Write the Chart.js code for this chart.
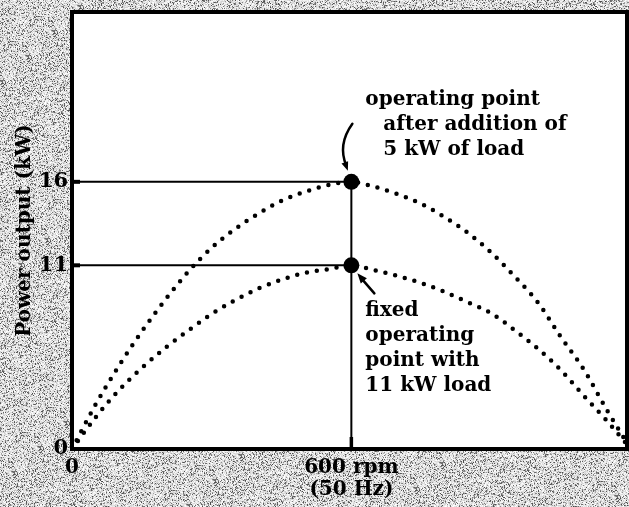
<!DOCTYPE html>
<html>
<head>
<meta charset="utf-8">
<script src="https://cdn.jsdelivr.net/npm/chart.js@4.4.0/dist/chart.umd.min.js"></script>
<style>
  html, body { margin: 0; padding: 0; background: #c4c4c4; }
  canvas { display: block; }
</style>
</head>
<body>
<canvas id="powerChart" width="629" height="507"></canvas>
<script>
// generator speed (rpm) and power output (kW) along the two load curves
const speedRpm = [0, 50, 100, 150, 200, 250, 300, 350, 400, 450, 500, 550, 600,
                  650, 700, 750, 800, 850, 900, 950, 1000, 1050, 1100, 1150, 1200];
const powerWithAddedLoad = [0, 2.63, 4.95, 7.04, 8.93, 10.63, 12.05, 13.17, 14.09, 14.87, 15.40, 15.81, 16,
                            15.70, 15.26, 14.68, 13.89, 12.95, 11.77, 10.35, 8.80, 6.71, 4.72, 2.28, 0];
const powerFixedLoad = [0, 1.87, 3.50, 4.85, 6.05, 7.10, 8.09, 8.91, 9.61, 10.14, 10.55, 10.76, 11,
                        10.70, 10.36, 9.94, 9.41, 8.79, 8.14, 7.13, 6.02, 4.72, 3.16, 1.65, 0];

// operating points
const operatingSpeed = 600;
const operatingPower = [16, 11];

// axis ticks
const xTicks = [0, 600];
const xTickLabels = ['0', ['600 rpm', '(50 Hz)']];
const yTicks = [0, 11, 16];

const serif = 'DejaVu Serif';

const toPoints = (xs, ys) => xs.map((x, i) => ({ x: x, y: ys[i] }));

// grainy paper round the plot
function makeGrain(w, h) {
    const c = document.createElement('canvas');
    c.width = w; c.height = h;
    const g = c.getContext('2d');
    const img = g.createImageData(w, h);
    let seed = 1234567;
    const rnd = () => {
        seed = (seed * 1103515245 + 12345) & 0x7fffffff;
        return seed / 0x7fffffff;
    };
    for (let i = 0; i < w * h; i++) {
        const v = rnd() < 0.25 ? 70 + rnd() * 110 : 205 + rnd() * 50;
        img.data[i * 4] = v;
        img.data[i * 4 + 1] = v;
        img.data[i * 4 + 2] = v;
        img.data[i * 4 + 3] = 255;
    }
    g.putImageData(img, 0, 0);
    return c;
}

const paperPlugin = {
    id: 'paper',
    beforeDraw(chart) {
        const { ctx, chartArea: a } = chart;
        if (!this.grain) this.grain = makeGrain(chart.width, chart.height);
        ctx.save();
        ctx.drawImage(this.grain, 0, 0);
        ctx.fillStyle = '#ffffff';
        ctx.fillRect(a.left, a.top, a.right - a.left, a.bottom - a.top);
        ctx.restore();
    },
    afterDraw(chart) {
        const { ctx, chartArea: a, scales: { x, y } } = chart;
        ctx.save();
        ctx.strokeStyle = '#000';
        ctx.lineWidth = 4;
        ctx.strokeRect(a.left, a.top, a.right - a.left, a.bottom - a.top);

        // short inward tick stubs
        ctx.lineWidth = 4;
        yTicks.filter(v => v > 0).forEach(v => {
            const py = y.getPixelForValue(v);
            ctx.beginPath();
            ctx.moveTo(a.left, py);
            ctx.lineTo(a.left + 8, py);
            ctx.stroke();
        });
        ctx.lineWidth = 3.5;
        xTicks.filter(v => v > 0).forEach(v => {
            const px = x.getPixelForValue(v);
            ctx.beginPath();
            ctx.moveTo(px, a.bottom);
            ctx.lineTo(px, a.bottom - 12);
            ctx.stroke();
        });
        ctx.restore();
    }
};

function arrowHead(ctx, x, y, dx, dy, len, half) {
    const d = Math.hypot(dx, dy);
    const ux = dx / d, uy = dy / d;
    ctx.beginPath();
    ctx.moveTo(x, y);
    ctx.lineTo(x - ux * len - uy * half, y - uy * len + ux * half);
    ctx.lineTo(x - ux * len + uy * half, y - uy * len - ux * half);
    ctx.closePath();
    ctx.fill();
}

// callout texts and arrows next to the two operating points
const calloutPlugin = {
    id: 'callouts',
    afterDatasetsDraw(chart) {
        const { ctx, scales: { x, y } } = chart;
        const mx = x.getPixelForValue(operatingSpeed);
        const hi = y.getPixelForValue(operatingPower[0]);
        const lo = y.getPixelForValue(operatingPower[1]);
        ctx.save();
        ctx.fillStyle = '#000';
        ctx.strokeStyle = '#000';
        ctx.font = 'bold 20px "' + serif + '"';
        ctx.textBaseline = 'alphabetic';
        ctx.textAlign = 'left';

        ctx.fillText('operating point', mx + 14, hi - 77);
        ctx.fillText('after addition of', mx + 32, hi - 52);
        ctx.fillText('5 kW of load', mx + 32, hi - 27);

        ctx.fillText('fixed', mx + 14, lo + 51);
        ctx.fillText('operating', mx + 14, lo + 76);
        ctx.fillText('point with', mx + 14, lo + 101);
        ctx.fillText('11 kW load', mx + 14, lo + 126);

        ctx.lineWidth = 2.5;
        ctx.lineCap = 'round';
        // curved arrow down to the upper point
        ctx.beginPath();
        ctx.moveTo(mx + 1, hi - 58);
        ctx.quadraticCurveTo(mx - 14, hi - 37, mx - 5, hi - 16);
        ctx.stroke();
        arrowHead(ctx, mx - 3.5, hi - 11, 9, 25, 9, 3.5);

        // straight arrow up to the lower point
        ctx.beginPath();
        ctx.moveTo(mx + 23, lo + 28);
        ctx.lineTo(mx + 10, lo + 13);
        ctx.stroke();
        arrowHead(ctx, mx + 6, lo + 8, -17, -20, 10, 4);
        ctx.restore();
    }
};

// keep the plot box fixed: no extra room for edge labels
const noEdgePadding = scale => {
    scale.paddingTop = 0;
    scale.paddingBottom = 0;
    scale.paddingLeft = 0;
    scale.paddingRight = 0;
};

const ctx = document.getElementById('powerChart').getContext('2d');

new Chart(ctx, {
    type: 'line',
    data: {
        datasets: [
            {
                label: 'operating points',
                type: 'scatter',
                data: operatingPower.map(p => ({ x: operatingSpeed, y: p })),
                pointRadius: 8,
                pointBackgroundColor: '#000',
                pointBorderWidth: 0,
                showLine: false
            },
            {
                label: 'after addition of 5 kW',
                data: toPoints(speedRpm, powerWithAddedLoad),
                borderColor: '#000',
                borderWidth: 4.5,
                borderDash: [0, 10],
                borderCapStyle: 'round',
                cubicInterpolationMode: 'monotone',
                pointRadius: 0
            },
            {
                label: '11 kW load',
                data: toPoints(speedRpm, powerFixedLoad),
                borderColor: '#000',
                borderWidth: 4.5,
                borderDash: [0, 10],
                borderCapStyle: 'round',
                cubicInterpolationMode: 'monotone',
                pointRadius: 0
            },
            {
                label: '16 kW level',
                data: [{ x: xTicks[0], y: operatingPower[0] }, { x: operatingSpeed, y: operatingPower[0] }],
                borderColor: '#000',
                borderWidth: 2,
                pointRadius: 0
            },
            {
                label: '11 kW level',
                data: [{ x: xTicks[0], y: operatingPower[1] }, { x: operatingSpeed, y: operatingPower[1] }],
                borderColor: '#000',
                borderWidth: 2,
                pointRadius: 0
            },
            {
                label: '600 rpm',
                data: [{ x: operatingSpeed, y: operatingPower[0] }, { x: operatingSpeed, y: yTicks[0] }],
                borderColor: '#000',
                borderWidth: 2,
                pointRadius: 0
            }
        ]
    },
    options: {
        responsive: false,
        animation: false,
        layout: {
            autoPadding: false,
            padding: { left: 0, top: 12, right: 2, bottom: 0 }
        },
        plugins: {
            legend: { display: false },
            tooltip: { enabled: false }
        },
        scales: {
            x: {
                type: 'linear',
                min: 0,
                max: 1192,
                afterFit: scale => { scale.height = 58; noEdgePadding(scale); },
                afterBuildTicks: scale => { scale.ticks = xTicks.map(v => ({ value: v })); },
                grid: { display: false, drawTicks: false },
                border: { display: false },
                ticks: {
                    autoSkip: false,
                    maxRotation: 0,
                    padding: 8,
                    color: '#000',
                    font: { family: serif, weight: 'bold', size: 20, lineHeight: 1.1 },
                    callback: value => xTickLabels[xTicks.indexOf(value)]
                }
            },
            y: {
                min: 0,
                max: 26.17,
                afterFit: scale => { scale.width = 72; noEdgePadding(scale); },
                afterBuildTicks: scale => { scale.ticks = yTicks.map(v => ({ value: v })); },
                grid: { display: false, drawTicks: false },
                border: { display: false },
                title: {
                    display: true,
                    text: 'Power output (kW)',
                    color: '#000',
                    font: { family: serif, weight: 'bold', size: 20 },
                    padding: { top: 13, bottom: 0 }
                },
                ticks: {
                    autoSkip: false,
                    padding: 4,
                    color: '#000',
                    font: { family: serif, weight: 'bold', size: 21 }
                }
            }
        }
    },
    plugins: [paperPlugin, calloutPlugin]
});
</script>
</body>
</html>
